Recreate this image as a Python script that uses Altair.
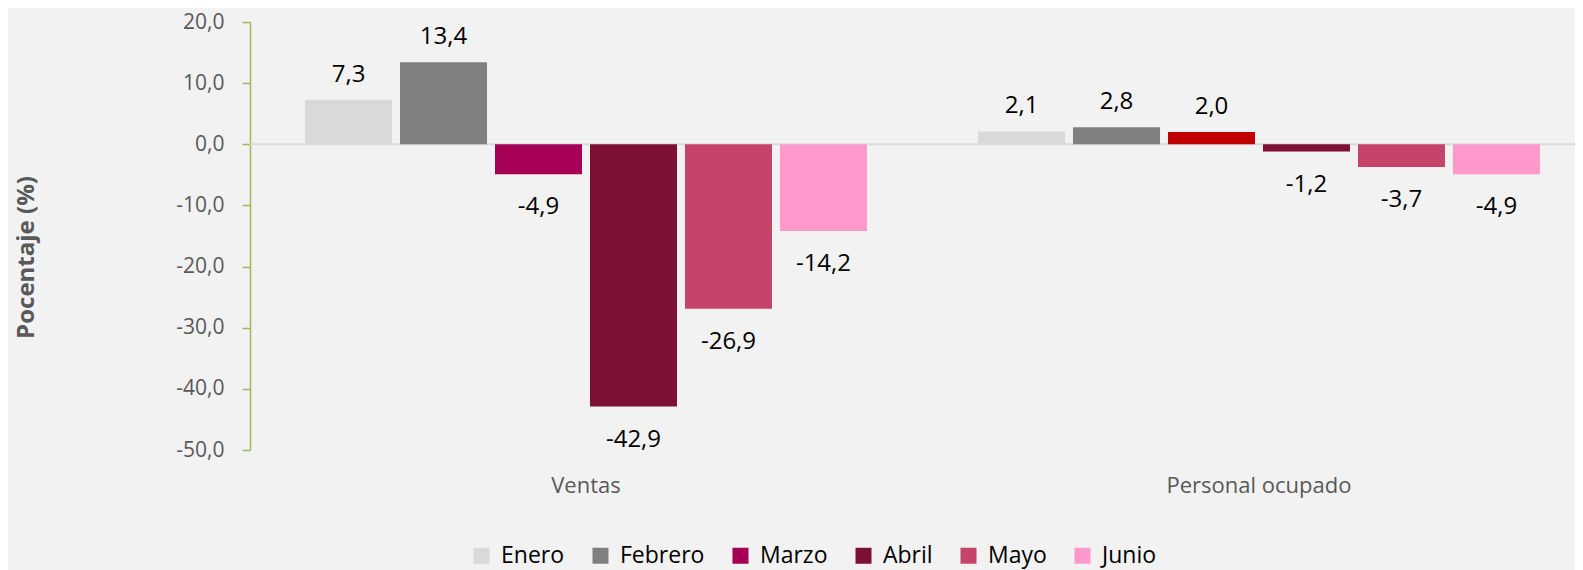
import altair as alt
import pandas as pd

categorias = ["Ventas", "Personal ocupado"]
meses = ["Enero", "Febrero", "Marzo", "Abril", "Mayo", "Junio"]
ventas = [7.3, 13.4, -4.9, -42.9, -26.9, -14.2]
personal = [2.1, 2.8, 2.0, -1.2, -3.7, -4.9]
colores = ["#D9D9D9", "#808080", "#A50055", "#7D1135", "#C4446A", "#FF99CC"]
rojo_destacado = "#C00000"
y_ticks = [-50, -40, -30, -20, -10, 0, 10, 20]

rows = []
for cat, vals in zip(categorias, [ventas, personal]):
    for m, v in zip(meses, vals):
        rows.append({"Categoria": cat, "Mes": m, "valor": v})
df = pd.DataFrame(rows)

FONT = "Segoe UI, Open Sans, sans-serif"
GREY = "#595959"
fmt = "replace(replace(format({v}, '.1f'), '.', ','), '\u2212', '-')"

base = alt.Chart(df).transform_calculate(
    label=fmt.format(v="datum.valor")
)

x_enc = alt.X(
    "Categoria:N",
    sort=categorias,
    scale=alt.Scale(paddingInner=0.165, paddingOuter=0.0669, align=0.611),
    axis=alt.Axis(
        title=None, domain=False, ticks=False, labelAngle=0, labelLimit=0,
        labelFontSize=22, labelColor=GREY, labelFont=FONT, labelPadding=25,
    ),
)
xoff_enc = alt.XOffset(
    "Mes:N", sort=meses, scale=alt.Scale(paddingInner=0.084, paddingOuter=0)
)
y_scale = alt.Scale(domain=[-50, 20], nice=False, zero=False)

zero_rule = alt.Chart(pd.DataFrame({"cero": [0]})).mark_rule(
    color="#D9D9D9", strokeWidth=2
).encode(y=alt.Y("cero:Q", scale=y_scale))

bars = base.mark_bar().encode(
    x=x_enc,
    xOffset=xoff_enc,
    y=alt.Y(
        "valor:Q",
        scale=y_scale,
        axis=alt.Axis(
            values=y_ticks,
            grid=False,
            domainColor="#9BBB59", domainWidth=1.5,
            tickColor="#9BBB59", tickWidth=1.5, tickSize=8,
            labelFontSize=21, labelColor=GREY, labelFont=FONT, labelPadding=18,
            labelExpr=fmt.format(v="datum.value"),
            title="Pocentaje (%)", titleFontSize=24, titleFontWeight="bold",
            titleColor=GREY, titleFont=FONT, titleX=-217, titleY=235,
            titleAngle=270, titleBaseline="alphabetic", titleAlign="center",
        ),
    ),
    color=alt.condition(
        "datum.Categoria == 'Personal ocupado' && datum.Mes == 'Marzo'",
        alt.value(rojo_destacado),
        alt.Color(
            "Mes:N",
            sort=meses,
            scale=alt.Scale(domain=meses, range=colores),
            legend=alt.Legend(
                title=None, orient="none", direction="horizontal",
                legendX=220, legendY=522, symbolType="square",
                symbolSize=256, symbolStrokeWidth=0, labelOffset=8,
                columnPadding=24, labelFontSize=23, labelColor="#000000",
                labelFont=FONT, padding=0,
            ),
        ),
    ),
)

pos_text = base.transform_filter("datum.valor >= 0").mark_text(
    baseline="alphabetic", dy=-18, fontSize=24, font=FONT, color="#000000"
).encode(x=x_enc, xOffset=xoff_enc, y=alt.Y("valor:Q", scale=y_scale), text="label:N")

neg_text = base.transform_filter("datum.valor < 0").mark_text(
    baseline="alphabetic", dy=40, fontSize=24, font=FONT, color="#000000"
).encode(x=x_enc, xOffset=xoff_enc, y=alt.Y("valor:Q", scale=y_scale), text="label:N")

chart = alt.layer(zero_rule, bars, pos_text, neg_text).properties(
    width=1325,
    height=428,
    autosize=alt.AutoSizeParams(type="none"),
    padding={"left": 242, "top": 14, "right": 0, "bottom": 120},
).configure(background="#F2F2F2").configure_view(stroke=None)

chart.save("out.html", embed_options={"renderer": "svg", "actions": False})
